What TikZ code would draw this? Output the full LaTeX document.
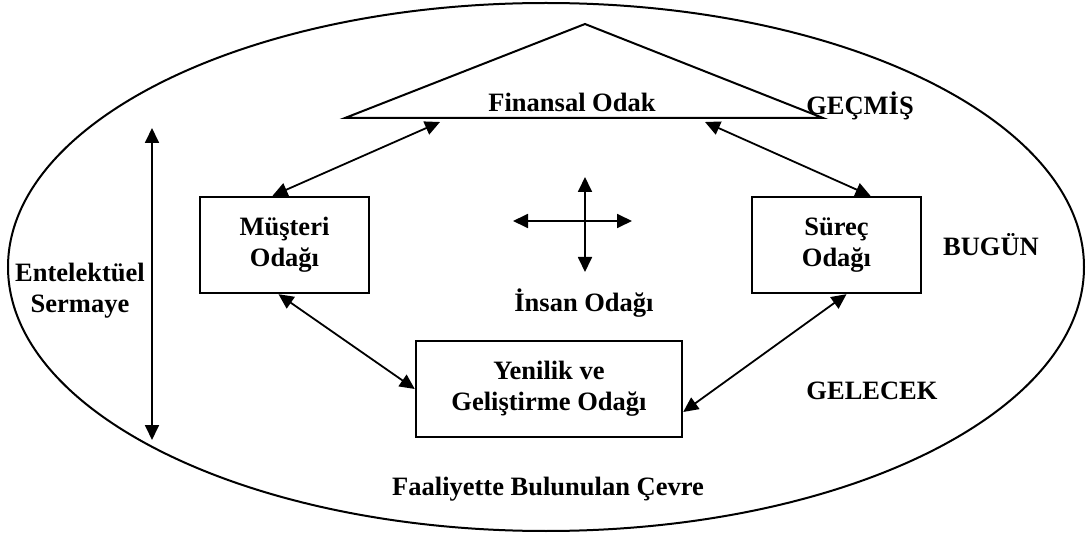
\documentclass[tikz,border=0pt]{standalone}
\usepackage{fontspec}
\setmainfont{Liberation Serif}
\usetikzlibrary{positioning,arrows.meta}

\begin{document}
\begin{tikzpicture}[x=0.5pt,y=-0.5pt,
  lbl/.style={font=\fontsize{13.25}{15.5}\selectfont\bfseries,inner sep=0pt},
  focus/.style={lbl,draw,line width=1.2pt,align=center,minimum width=84.5pt,minimum height=48pt},
  arr/.style={{Triangle[length=7.5pt,width=7pt]}-{Triangle[length=7.5pt,width=7pt]},line width=0.9pt}]
\useasboundingbox (0,0) rectangle (1089,535);
% environment
\draw[line width=1pt] (546,267) ellipse [x radius=538, y radius=264];
% financial focus (triangle)
\coordinate (apex) at (585,24);
\coordinate (baseL) at (345,118);
\coordinate (baseR) at (823,118);
\draw[line width=1pt] (baseL) -- (apex) -- (baseR) -- cycle;
\node[lbl,anchor=base] (fin) at (572,112) {Finansal Odak};
\node[lbl,anchor=base] (past) at (860,115) {GEÇMİŞ};
\node[lbl,anchor=base] (today) at (991,256) {BUGÜN};
\node[lbl,anchor=base] (future) at (872,400) {GELECEK};
% the three boxes
\node[focus] (mus) at (284.5,245) {Müşteri\\Odağı};
\node[focus] (sur) at (836.5,245) {Süreç\\Odağı};
\node[focus,minimum width=133pt] (yen) at (549,389) {Yenilik ve\\Geliştirme Odağı};
\coordinate (finL) at (440,122);
\coordinate (finR) at (705,122);
\draw[arr] ([xshift=-6pt]mus.north) -- (finL);
\draw[arr] (finR) -- ([xshift=17pt]sur.north);
\draw[arr] ([xshift=-3pt]mus.south) -- (yen.west);
\draw[arr] ([xshift=5pt]sur.south) -- ([yshift=-11.5pt]yen.east);
% human focus
\coordinate (hL) at (513,221);
\coordinate (hR) at (632,221);
\coordinate (hT) at (585,177);
\coordinate (hB) at (585,272);
\draw[arr] (hL) -- (hR);
\draw[arr] (hT) -- (hB);
\node[lbl,anchor=base] (human) at (584,312) {İnsan Odağı};
% intellectual capital
\coordinate (icT) at (152,128);
\coordinate (icB) at (152,440);
\draw[arr] (icT) -- (icB);
\node[lbl,align=center] (ic) at (80,291) {Entelektüel\\Sermaye};
\node[lbl,anchor=base] (env) at (548,495) {Faaliyette Bulunulan Çevre};
\end{tikzpicture}
\end{document}
